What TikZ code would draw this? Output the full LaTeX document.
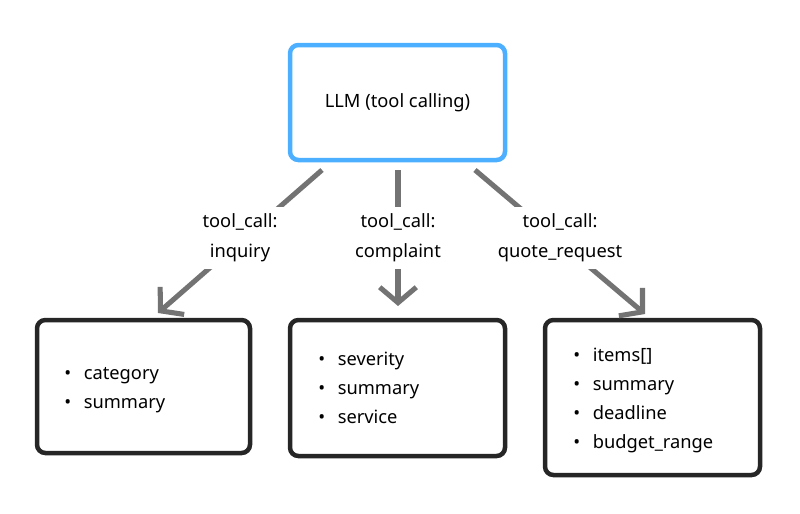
\documentclass[tikz,border=0pt]{standalone}
\usepackage{fontspec}
\setmainfont{Noto Sans}
\usetikzlibrary{positioning,arrows.meta}
\tikzset{
  box/.style={draw=black!85,line width=3.2pt,rounded corners=6pt,fill=white},
  llmbox/.style={box,draw=blue!45!cyan!70!white},
  arr/.style={draw=black!55,line width=3.6pt,-{Straight Barb[length=11pt,width=26pt,line width=3.6pt]}},
  lbl/.style={fill=white,align=center,inner sep=5pt,font=\fontsize{13}{21}\selectfont},
  items/.style={anchor=north west,align=left,inner sep=0pt,font=\fontsize{13}{20.6}\selectfont}
}
\newcommand*{\itm}[1]{\textbullet\hspace{9pt}#1}
\begin{document}
\begin{tikzpicture}[x=0.025cm,y=-0.025cm]
\useasboundingbox (0,0) rectangle (800,513);
% Boxes
\node[llmbox,minimum width=215*0.025cm,minimum height=115*0.025cm,font=\fontsize{13}{16}\selectfont] (llm) at (397.5,102.5) {LLM (tool calling)};
\node[box,minimum width=213*0.025cm,minimum height=133*0.025cm] (inq) at (143.5,386.5) {};
\node[box,minimum width=215*0.025cm,minimum height=136*0.025cm] (cmp) at (397.5,388) {};
\node[box,minimum width=215*0.025cm,minimum height=155*0.025cm] (quo) at (652.5,397.5) {};
% Field lists
\node[items] (inqlist) at (64,367) {\itm{category}\\\itm{summary}};
\node[items] (cmplist) at (318,352) {\itm{severity}\\\itm{summary}\\\itm{service}};
\node[items] (quolist) at (573,348) {\itm{items[]}\\\itm{summary}\\\itm{deadline}\\\itm{budget\_range}};
% Arrow ends
\coordinate (s1) at (322,170); \coordinate (e1) at (158,313);
\coordinate (s2) at (398,170); \coordinate (e2) at (398,306);
\coordinate (s3) at (475,170); \coordinate (e3) at (645,314);
% Tool calls
\draw[arr] (s1) -- (e1);
\draw[arr] (s2) -- (e2);
\draw[arr] (s3) -- (e3);
\node[lbl] (l1) at (240,238) {tool\_call:\\inquiry};
\node[lbl] (l2) at (398,238) {tool\_call:\\complaint};
\node[lbl] (l3) at (560,238) {tool\_call:\\quote\_request};
\end{tikzpicture}
\end{document}
